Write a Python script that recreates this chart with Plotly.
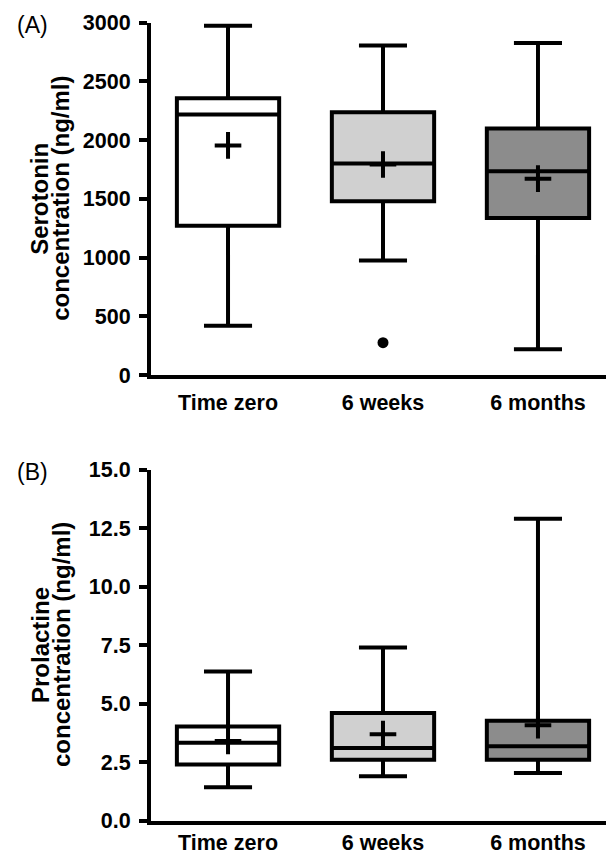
import plotly.graph_objects as go
from plotly.subplots import make_subplots

categories = ["Time zero", "6 weeks", "6 months"]
fill_colors = ["#ffffff", "#d0d0d0", "#8c8c8c"]

# Serotonin (ng/ml)
ser_low = [420, 975, 220]
ser_q1 = [1270, 1480, 1337]
ser_med = [2218, 1802, 1735]
ser_q3 = [2357, 2238, 2098]
ser_high = [2975, 2805, 2827]
ser_mean = [1955, 1792, 1672]
ser_outlier_cat = [1]
ser_outlier_val = [275]

# Prolactine (ng/ml)
prl_low = [1.42, 1.89, 2.03]
prl_q1 = [2.39, 2.6, 2.6]
prl_med = [3.32, 3.1, 3.17]
prl_q3 = [4.02, 4.59, 4.26]
prl_high = [6.37, 7.39, 12.9]
prl_mean = [3.4, 3.69, 4.07]

ser_ticks = [0, 500, 1000, 1500, 2000, 2500, 3000]
prl_ticks = [0, 2.5, 5.0, 7.5, 10.0, 12.5, 15.0]

W, H = 606, 856
L = 151
PW = W - L
fig = make_subplots(rows=2, cols=1)

FONT = "Liberation Sans, Arial, sans-serif"
LW = 4

def add_panel(row, low, q1, med, q3, high, mean):
    for i, cat in enumerate(categories):
        fig.add_trace(go.Box(
            x=[i], q1=[q1[i]], median=[med[i]], q3=[q3[i]],
            lowerfence=[low[i]], upperfence=[high[i]],
            width=0.66, whiskerwidth=0.47,
            fillcolor=fill_colors[i],
            line=dict(color="black", width=LW),
            boxpoints=False, showlegend=False, hoverinfo="skip",
        ), row=row, col=1)
    fig.add_trace(go.Scatter(
        x=list(range(len(categories))), y=mean, mode="markers",
        marker=dict(symbol="cross-thin", size=19,
                    line=dict(color="black", width=4)),
        showlegend=False, hoverinfo="skip", cliponaxis=False,
    ), row=row, col=1)

add_panel(1, ser_low, ser_q1, ser_med, ser_q3, ser_high, ser_mean)
fig.add_trace(go.Scatter(
    x=ser_outlier_cat, y=ser_outlier_val, mode="markers",
    marker=dict(symbol="circle", size=11, color="black"),
    showlegend=False, hoverinfo="skip",
), row=1, col=1)
add_panel(2, prl_low, prl_q1, prl_med, prl_q3, prl_high, prl_mean)

xrange = [-0.497, 2.439]
tickfont = dict(family=FONT, size=21.5, color="black", weight="bold")
axis_common = dict(showline=True, linecolor="black", linewidth=LW,
                   showgrid=False, zeroline=False, automargin=False,
                   tickfont=tickfont)

for r, standoff in ((1, 5), (2, 0)):
    fig.update_xaxes(range=xrange, tickmode="array",
                     tickvals=list(range(len(categories))), ticktext=categories,
                     ticks="", ticklen=0, ticklabelstandoff=standoff,
                     **axis_common, row=r, col=1)

fig.update_yaxes(range=[0, 3000], tickmode="array", tickvals=ser_ticks,
                 ticks="outside", ticklen=8, tickwidth=LW, tickcolor="black",
                 ticklabelstandoff=4,
                 **axis_common, row=1, col=1)
fig.update_yaxes(range=[0, 15], tickmode="array", tickvals=prl_ticks,
                 tickformat=".1f",
                 ticks="outside", ticklen=8, tickwidth=LW, tickcolor="black",
                 ticklabelstandoff=4,
                 **axis_common, row=2, col=1)

top = (22.7, 375)
bot = (469.5, 820.5)

def px(xp):
    return (xp - L) / PW

titlefont = dict(family=FONT, size=24, color="black", weight="bold")
annotations = []
for (y0, y1), lines, lab, laby in [
    (top, ["Serotonin", "concentration (ng/ml)"], "(A)", 25),
    (bot, ["Prolactine", "concentration (ng/ml)"], "(B)", 472),
]:
    yc = 1 - (y0 + y1) / 2 / H
    for txt, xc in zip(lines, [40, 61]):
        annotations.append(dict(text=txt, x=px(xc), y=yc, xref="paper", yref="paper",
                                xanchor="center", yanchor="middle", textangle=-90,
                                showarrow=False, font=titlefont))
    annotations.append(dict(text=lab, x=px(15), y=1 - laby / H, xref="paper", yref="paper",
                            xanchor="left", yanchor="middle", showarrow=False,
                            font=dict(family=FONT, size=23, color="black")))

fig.update_layout(
    width=W, height=H,
    margin=dict(l=L, r=0, t=0, b=0, autoexpand=False),
    plot_bgcolor="white", paper_bgcolor="white",
    xaxis=dict(domain=[0, 1]),
    yaxis=dict(domain=[1 - top[1] / H, 1 - top[0] / H]),
    xaxis2=dict(domain=[0, 1]),
    yaxis2=dict(domain=[1 - bot[1] / H, 1 - bot[0] / H]),
    annotations=annotations,
)

fig.write_html("out.html",
               config={"displayModeBar": False},
               post_script="document.body.style.margin='0';document.body.style.overflow='hidden';")
